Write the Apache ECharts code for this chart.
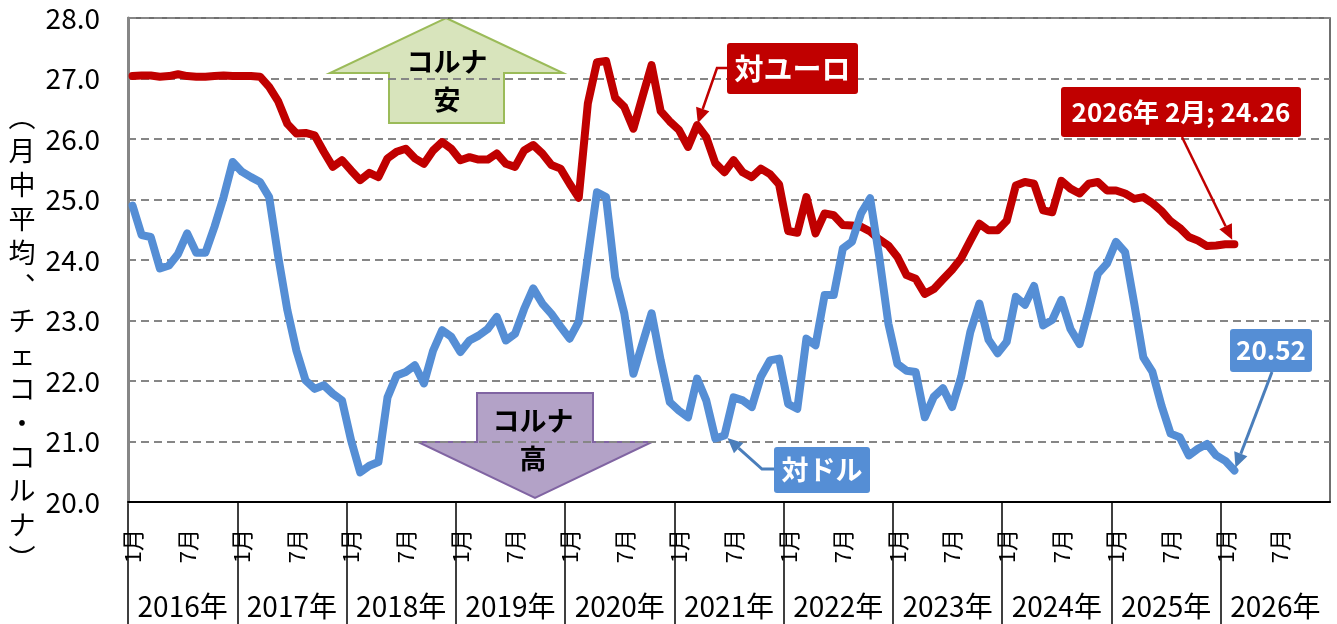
<!DOCTYPE html>
<html>
<head>
<meta charset="utf-8">
<title>チェコ・コルナ</title>
<script src="https://cdn.jsdelivr.net/npm/echarts@6/dist/echarts.min.js"></script>
<style>
  html, body { margin: 0; padding: 0; background: #fff; }
  #main { width: 1337px; height: 624px; }
</style>
</head>
<body>
<div id="main"></div>
<script>
// Categories
var years = ['2016年', '2017年', '2018年', '2019年', '2020年', '2021年',
  '2022年', '2023年', '2024年', '2025年', '2026年'];
var monthNames = ['1月', '2月', '3月', '4月', '5月', '6月',
  '7月', '8月', '9月', '10月', '11月', '12月'];

// Monthly averages, Jan 2016 - Feb 2026 (CZK per EUR)
var eurCzk = [
  27.04, 27.05, 27.05, 27.03, 27.04, 27.07, 27.04, 27.03, 27.03, 27.04, 27.05, 27.04,
  27.04, 27.04, 27.03, 26.86, 26.62, 26.25, 26.09, 26.10, 26.06, 25.79, 25.54, 25.65,
  25.48, 25.32, 25.44, 25.37, 25.68, 25.79, 25.84, 25.68, 25.59, 25.81, 25.95, 25.84,
  25.65, 25.70, 25.66, 25.66, 25.76, 25.59, 25.54, 25.81, 25.90, 25.76, 25.57, 25.51,
  25.26, 25.03, 26.59, 27.27, 27.29, 26.68, 26.53, 26.17, 26.70, 27.22, 26.46, 26.29,
  26.15, 25.87, 26.23, 26.03, 25.60, 25.45, 25.65, 25.45, 25.37, 25.51, 25.42, 25.25,
  24.48, 24.45, 25.04, 24.44, 24.77, 24.74, 24.58, 24.57, 24.55, 24.47, 24.34, 24.24,
  24.05, 23.75, 23.69, 23.44, 23.52, 23.68, 23.84, 24.03, 24.32, 24.60, 24.49, 24.49,
  24.65, 25.23, 25.29, 25.26, 24.82, 24.79, 25.31, 25.18, 25.10, 25.26, 25.29, 25.15,
  25.15, 25.10, 25.01, 25.04, 24.94, 24.81, 24.64, 24.53, 24.38, 24.32, 24.23, 24.24,
  24.26, 24.26
];

// Monthly averages, Jan 2016 - Feb 2026 (CZK per USD)
var usdCzk = [
  24.90, 24.41, 24.38, 23.86, 23.91, 24.10, 24.44, 24.12, 24.12, 24.55, 25.04, 25.62,
  25.46, 25.37, 25.29, 25.04, 24.05, 23.17, 22.50, 22.01, 21.87, 21.93, 21.79, 21.68,
  21.02, 20.49, 20.60, 20.66, 21.73, 22.09, 22.15, 22.26, 21.96, 22.50, 22.84, 22.73,
  22.48, 22.67, 22.75, 22.86, 23.06, 22.67, 22.78, 23.19, 23.53, 23.28, 23.11, 22.90,
  22.70, 22.98, 24.05, 25.12, 25.04, 23.72, 23.12, 22.12, 22.62, 23.12, 22.34, 21.65,
  21.51, 21.40, 22.04, 21.68, 21.05, 21.10, 21.73, 21.68, 21.57, 22.07, 22.34, 22.37,
  21.62, 21.54, 22.70, 22.59, 23.42, 23.42, 24.19, 24.30, 24.77, 25.02, 24.05, 22.95,
  22.28, 22.17, 22.15, 21.40, 21.74, 21.88, 21.57, 22.07, 22.81, 23.28, 22.68, 22.46,
  22.65, 23.39, 23.26, 23.57, 22.92, 23.01, 23.34, 22.86, 22.61, 23.17, 23.77, 23.94,
  24.30, 24.13, 23.28, 22.39, 22.15, 21.59, 21.13, 21.07, 20.77, 20.88, 20.96, 20.77,
  20.68, 20.52
];

// Y axis range
var yMin = 20, yMax = 28, yStep = 1;

// Point labels
var eurLabelIndex = 62;   // where the 対ユーロ arrow points
var usdLabelIndex = 65;   // where the 対ドル arrow points
var lastIndex = eurCzk.length - 1;

// Styles
var FONT = '"Noto Sans CJK JP", "Noto Sans", sans-serif';
var RED = '#c00000';
var BLUE = '#558ed5';
var BLUE_ARROW = '#4a7ebb';
var GRID_POS = { left: 128, right: 7, top: 18, bottom: 122 };

var myChart;

/**
 * @name buildMonths
 * @desc one category per month over all years
 * @return {array}
 */
function buildMonths() {
  var list = [];
  years.forEach(function (y) {
    monthNames.forEach(function (m) {
      list.push(y + m);
    });
  });
  return list;
}

/**
 * @name moveToward
 * @desc shift point p toward q by a few pixels
 */
function moveToward(p, q, gap) {
  var dx = q[0] - p[0], dy = q[1] - p[1];
  var len = Math.sqrt(dx * dx + dy * dy);
  return [p[0] + dx / len * gap, p[1] + dy / len * gap];
}

/**
 * @name arrow
 * @desc leader line with a triangular head at the last point
 */
function arrow(points, color, width) {
  var n = points.length,
    tip = points[n - 1],
    prev = points[n - 2],
    dx = tip[0] - prev[0],
    dy = tip[1] - prev[1],
    len = Math.sqrt(dx * dx + dy * dy),
    ux = dx / len,
    uy = dy / len,
    headLen = 15,
    headHalf = 7,
    base = [tip[0] - ux * headLen, tip[1] - uy * headLen];

  return [
    {
      type: 'polyline',
      z: 20,
      shape: { points: points.slice(0, n - 1).concat([base]) },
      style: { stroke: color, lineWidth: width, fill: null }
    },
    {
      type: 'polygon',
      z: 20,
      shape: {
        points: [tip,
          [base[0] - uy * headHalf, base[1] + ux * headHalf],
          [base[0] + uy * headHalf, base[1] - ux * headHalf]]
      },
      style: { fill: color }
    }
  ];
}

/**
 * @name textEl
 * @desc centred text graphic
 */
function textEl(text, x, y, size, color, bold, z) {
  return {
    type: 'text',
    z: z || 21,
    x: x,
    y: y,
    style: {
      text: text,
      fill: color,
      fontSize: size,
      fontWeight: bold ? 'bold' : 'normal',
      fontFamily: FONT,
      align: 'center',
      verticalAlign: 'middle',
      textAlign: 'center',
      textVerticalAlign: 'middle'
    }
  };
}

/**
 * @name box
 * @desc filled label box with white bold text
 */
function box(x, y, w, h, fill, text, size) {
  return [
    { type: 'rect', z: 20, shape: { x: x, y: y, width: w, height: h, r: 3 }, style: { fill: fill } },
    textEl(text, x + w / 2, y + h / 2, size, '#fff', true, 21)
  ];
}

/**
 * @name staticGraphics
 * @desc axis name, block arrows and label boxes
 */
function staticGraphics() {
  var els = [];
  var nameChars = ['︵', '月', '中', '平', '均', '︑', 'チ', 'ェ', 'コ', '・', 'コ', 'ル', 'ナ', '︶'];

  els.push({
    type: 'text',
    x: 22,
    y: 100,
    style: {
      text: nameChars.join('\n'),
      fill: '#000',
      fontSize: 27,
      lineHeight: 34,
      fontFamily: FONT,
      align: 'center',
      verticalAlign: 'top',
      textAlign: 'center',
      textVerticalAlign: 'top'
    }
  });

  // コルナ安 (up arrow)
  els.push({
    type: 'polygon',
    z: -1,
    shape: { points: [[446, 18], [563, 73], [504, 73], [504, 123], [389, 123], [389, 73], [330, 73]] },
    style: { fill: '#d8e4bc', stroke: '#9bbb59', lineWidth: 2 }
  });
  els.push(textEl('コルナ', 447, 62, 27, '#000', true, 6));
  els.push(textEl('安', 447, 100, 27, '#000', true, 6));

  // コルナ高 (down arrow)
  els.push({
    type: 'polygon',
    z: 1,
    shape: { points: [[477, 393], [593, 393], [593, 442], [652, 442], [535, 498], [418, 442], [477, 442]] },
    style: { fill: '#b3a2c7', stroke: '#8064a2', lineWidth: 2 }
  });
  els.push(textEl('コルナ', 533, 421, 27, '#000', true, 6));
  els.push(textEl('高', 533, 459, 27, '#000', true, 6));

  els = els.concat(box(727, 43, 131, 51, RED, '対ユーロ', 29));
  els = els.concat(box(774, 447, 96, 46, BLUE, '対ドル', 27));
  els = els.concat(box(1061, 87, 240, 50, RED, '2026年 2月; ' + eurCzk[lastIndex].toFixed(2), 26));
  els = els.concat(box(1230, 329, 82, 43, BLUE, usdCzk[lastIndex].toFixed(2), 26));
  return els;
}

/**
 * @name leaderGraphics
 * @desc arrows whose tips are placed on the series through the axes
 */
function leaderGraphics() {
  var pEur = myChart.convertToPixel({ seriesIndex: 0 }, [eurLabelIndex, eurCzk[eurLabelIndex]]);
  var pUsd = myChart.convertToPixel({ seriesIndex: 1 }, [usdLabelIndex, usdCzk[usdLabelIndex]]);
  var pEurLast = myChart.convertToPixel({ seriesIndex: 0 }, [lastIndex, eurCzk[lastIndex]]);
  var pUsdLast = myChart.convertToPixel({ seriesIndex: 1 }, [lastIndex, usdCzk[lastIndex]]);
  var els = [];

  els = els.concat(arrow([[727, 68], [717, 68], moveToward(pEur, [717, 68], 2)], RED, 2.5));
  els = els.concat(arrow([[774, 469], [762, 469], moveToward(pUsd, [762, 469], 4)], BLUE_ARROW, 3));
  els = els.concat(arrow([[1182, 137], moveToward(pEurLast, [1182, 137], 5)], RED, 2.5));
  els = els.concat(arrow([[1272, 372], moveToward(pUsdLast, [1272, 372], 3)], BLUE_ARROW, 3));
  return els;
}

/**
 * @name paint
 * @desc build the chart
 */
function paint() {
  var months = buildMonths();
  var boundaries = months.concat(['']);
  var gridA = Object.assign({}, GRID_POS, { show: true, borderColor: '#404040', borderWidth: 1.5 });
  var gridB = Object.assign({}, GRID_POS);
  var gridC = Object.assign({}, GRID_POS);

  myChart = echarts.init(document.getElementById('main'));

  var option = {
    animation: false,
    backgroundColor: '#fff',
    textStyle: { fontFamily: FONT },
    grid: [gridA, gridB, gridC],
    xAxis: [
      {
        // months: data + 1月 / 7月 labels
        gridIndex: 0,
        type: 'category',
        data: months,
        boundaryGap: true,
        z: 3,
        axisLine: { lineStyle: { color: '#000', width: 2 } },
        axisTick: { show: false },
        splitLine: { show: false },
        axisLabel: {
          rotate: 90,
          margin: 27,
          fontSize: 22,
          color: '#000',
          fontFamily: FONT,
          interval: function (index) { return index % 6 === 0; },
          formatter: function (value) { return value.slice(5); }
        }
      },
      {
        // year separators
        gridIndex: 1,
        type: 'category',
        data: boundaries,
        boundaryGap: false,
        axisLine: { show: false },
        axisLabel: { show: false },
        splitLine: { show: false },
        axisTick: {
          show: true,
          length: 125,
          interval: function (index) { return index % 12 === 0 && index < months.length; },
          lineStyle: { color: '#000', width: 1.5 }
        }
      },
      {
        // year labels
        gridIndex: 2,
        type: 'category',
        data: years,
        boundaryGap: true,
        axisLine: { show: false },
        axisTick: { show: false },
        splitLine: { show: false },
        axisLabel: { interval: 0, margin: 90, fontSize: 28, color: '#000', fontFamily: FONT }
      }
    ],
    yAxis: [
      {
        gridIndex: 0,
        type: 'value',
        min: yMin,
        max: yMax,
        interval: yStep,
        z: 3,
        axisLine: { show: true, lineStyle: { color: '#868686', width: 3 } },
        axisTick: { show: false },
        axisLabel: {
          margin: 28,
          fontSize: 28,
          color: '#000',
          fontFamily: FONT,
          formatter: function (v) { return v.toFixed(1); }
        },
        splitLine: { lineStyle: { color: '#868686', width: 2, type: [8, 5] } }
      },
      { gridIndex: 1, type: 'value', show: false },
      { gridIndex: 2, type: 'value', show: false }
    ],
    series: [
      {
        name: '対ユーロ',
        type: 'line',
        xAxisIndex: 0,
        yAxisIndex: 0,
        data: eurCzk,
        symbol: 'none',
        lineStyle: { color: RED, width: 8, cap: 'round', join: 'round' }
      },
      {
        name: '対ドル',
        type: 'line',
        xAxisIndex: 0,
        yAxisIndex: 0,
        data: usdCzk,
        symbol: 'none',
        lineStyle: { color: BLUE, width: 8, cap: 'round', join: 'round' }
      }
    ],
    graphic: { elements: staticGraphics() }
  };

  myChart.setOption(option);
  myChart.setOption({ graphic: { elements: staticGraphics().concat(leaderGraphics()) } }, { replaceMerge: ['graphic'] });
}

paint();
</script>
</body>
</html>
